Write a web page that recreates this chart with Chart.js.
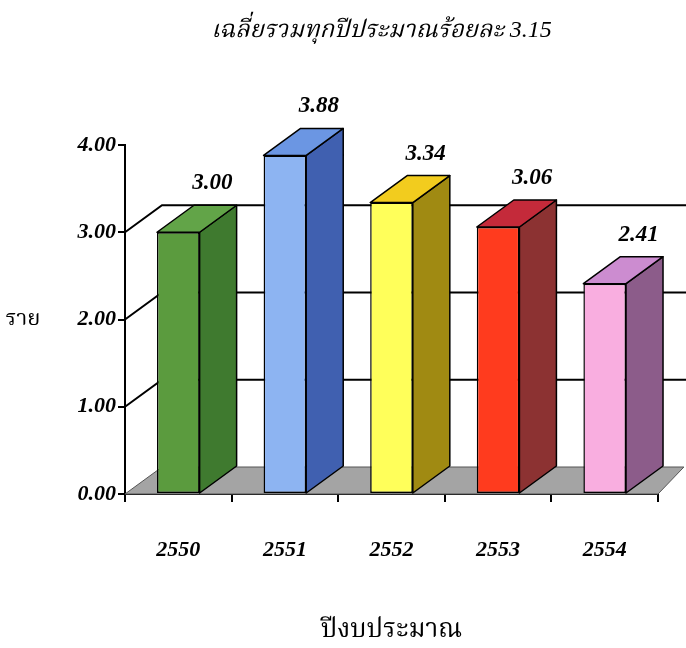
<!DOCTYPE html>
<html><head><meta charset="utf-8">
<script src="https://cdn.jsdelivr.net/npm/chart.js@4.4.0/dist/chart.umd.min.js"></script>
<style>html,body{margin:0;padding:0;background:#fff}#wrap{width:686px;height:648px}</style>
</head><body><div id="wrap"><canvas id="c"></canvas></div>
<script>
// ---- data ----
const categories = ['2550', '2551', '2552', '2553', '2554'];
const values = [3.00, 3.88, 3.34, 3.06, 2.41];
const yTicks = [0, 1, 2, 3, 4];
const chartTitle = 'เฉลี่ยรวมทุกปีประมาณร้อยละ 3.15';
const xTitle = 'ปีงบประมาณ';
const yTitle = 'ราย';

// ---- style ----
const frontColors = ['#5b9b3e', '#8db4f2', '#ffff5a', '#ff3b1e', '#f9aee0'];
const sideColors  = ['#3f7a2f', '#4060b0', '#a08a12', '#8c3232', '#8c5c8a'];
const topColors   = ['#62a448', '#6b96e3', '#f2cc1e', '#c42a3a', '#cc8cd0'];
const DX = 37, DY = -27;
const serif = '"Liberation Serif", "Times New Roman", "Noto Serif Thai", "Noto Sans Thai", serif';

const threeD = {
  id: 'threeD',
  beforeDatasetsDraw(chart) {
    const {ctx, chartArea: a, scales: {y}} = chart;
    const w = chart.width;
    ctx.save();
    // floor
    const b = y.getPixelForValue(0);
    ctx.beginPath();
    ctx.moveTo(a.left, b);
    ctx.lineTo(a.right, b);
    ctx.lineTo(a.right + DX * 0.7, b + DY);
    ctx.lineTo(a.left + DX, b + DY);
    ctx.closePath();
    ctx.fillStyle = '#a4a4a4';
    ctx.fill();
    ctx.strokeStyle = '#555';
    ctx.lineWidth = 1;
    ctx.stroke();
    // back wall grid lines
    ctx.strokeStyle = '#000';
    ctx.lineWidth = 2;
    yTicks.forEach(v => {
      if (v === 0 || v === 4) return;
      const py = y.getPixelForValue(v);
      ctx.beginPath();
      ctx.moveTo(a.left, py);
      ctx.lineTo(a.left + DX, py + DY);
      ctx.lineTo(w, py + DY);
      ctx.stroke();
    });
    ctx.restore();
  },
  afterDatasetsDraw(chart) {
    const {ctx} = chart;
    const meta = chart.getDatasetMeta(0);
    ctx.save();
    ctx.lineWidth = 1.5;
    ctx.strokeStyle = '#000';
    ctx.lineJoin = 'round';
    meta.data.forEach((bar, i) => {
      const p = bar.getProps(['x', 'y', 'base', 'width'], true);
      const l = p.x - p.width / 2, r = p.x + p.width / 2, t = p.y, bt = p.base;
      // side
      ctx.beginPath();
      ctx.moveTo(r, t); ctx.lineTo(r + DX, t + DY); ctx.lineTo(r + DX, bt + DY); ctx.lineTo(r, bt); ctx.closePath();
      ctx.fillStyle = sideColors[i]; ctx.fill(); ctx.stroke();
      // top
      ctx.beginPath();
      ctx.moveTo(l, t); ctx.lineTo(l + DX, t + DY); ctx.lineTo(r + DX, t + DY); ctx.lineTo(r, t); ctx.closePath();
      ctx.fillStyle = topColors[i]; ctx.fill(); ctx.stroke();
      // label
      ctx.fillStyle = '#000';
      ctx.font = 'italic bold 23px ' + serif;
      ctx.textAlign = 'center';
      ctx.textBaseline = 'middle';
      ctx.fillText(values[i].toFixed(2), p.x + DX - 3, t + DY - 22);
    });
    // y title (horizontal)
    ctx.font = '22px ' + serif;
    ctx.textAlign = 'center';
    ctx.fillText(yTitle, 23, chart.scales.y.getPixelForValue(2));
    // chart title
    ctx.font = 'italic 24px ' + serif;
    const a = chart.chartArea;
    ctx.fillText(chartTitle, (a.left + a.right) / 2 - 10, 31);
    ctx.restore();
  }
};

new Chart(document.getElementById('c'), {
  type: 'bar',
  data: {
    labels: categories,
    datasets: [{
      data: values,
      backgroundColor: frontColors,
      borderColor: '#000',
      borderWidth: 1.5,
      borderSkipped: false,
      barPercentage: 0.4,
      categoryPercentage: 1.0
    }]
  },
  options: {
    responsive: true,
    maintainAspectRatio: false,
    animation: false,
    layout: {padding: {top: 145, right: 28, left: 0, bottom: 0}},
    plugins: {legend: {display: false}, tooltip: {enabled: false}, title: {display: false}},
    scales: {
      x: {
        afterFit(s) { s.height = 154; },
        grid: {display: true, drawOnChartArea: false, drawTicks: true, tickLength: 8, color: '#000', lineWidth: 2},
        border: {display: true, color: '#000', width: 2},
        ticks: {color: '#000', padding: 35, font: {family: serif, size: 22, style: 'italic', weight: 'bold'}},
        title: {display: true, text: xTitle, color: '#000', font: {family: serif, size: 26}, padding: {top: 0, bottom: 2}}
      },
      y: {
        min: 0, max: 4,
        afterFit(s) { s.width = 125; },
        afterBuildTicks(s) { s.ticks = yTicks.map(v => ({value: v})); },
        grid: {display: true, drawOnChartArea: false, drawTicks: true, tickLength: 7, color: '#000', lineWidth: 2},
        border: {display: true, color: '#000', width: 2},
        ticks: {color: '#000', padding: 2, callback: v => Number(v).toFixed(2), font: {family: serif, size: 22, style: 'italic', weight: 'bold'}}
      }
    }
  },
  plugins: [threeD]
});
</script></body></html>
